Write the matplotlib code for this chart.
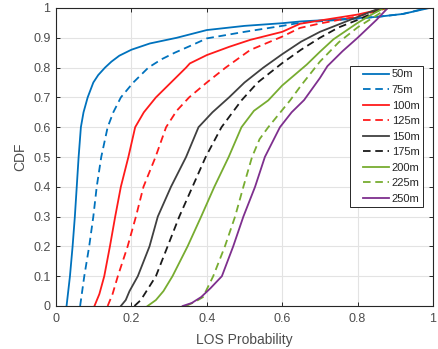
import matplotlib
matplotlib.use("Agg")
import matplotlib.pyplot as plt
from matplotlib.legend_handler import HandlerLine2D

plt.rcParams['font.family'] = ['Liberation Sans', 'DejaVu Sans']

labels = ['50m', '75m', '100m', '125m', '150m', '175m', '200m', '225m', '250m']

x_50 = [0.028, 0.037, 0.044, 0.050, 0.055, 0.060, 0.066, 0.073, 0.084, 0.099, 0.112, 0.130, 0.147, 0.168, 0.200, 0.249, 0.320, 0.400, 0.500, 0.600, 0.650, 0.750, 0.850, 0.920, 0.990]
y_50 = [0.0, 0.1, 0.2, 0.3, 0.4, 0.5, 0.6, 0.65, 0.7, 0.75, 0.775, 0.8, 0.82, 0.84, 0.86, 0.881, 0.9, 0.926, 0.94, 0.949, 0.955, 0.962, 0.97, 0.98, 1.0]

x_75 = [0.064, 0.075, 0.088, 0.099, 0.108, 0.120, 0.137, 0.152, 0.172, 0.205, 0.245, 0.280, 0.315, 0.360, 0.400, 0.500, 0.600, 0.650, 0.750, 0.850, 0.920, 0.985]
y_75 = [0.0, 0.1, 0.2, 0.3, 0.4, 0.5, 0.6, 0.65, 0.7, 0.75, 0.8, 0.828, 0.85, 0.875, 0.898, 0.92, 0.94, 0.951, 0.96, 0.97, 0.98, 1.0]

x_100 = [0.102, 0.115, 0.128, 0.143, 0.157, 0.172, 0.192, 0.210, 0.233, 0.265, 0.305, 0.345, 0.355, 0.400, 0.460, 0.515, 0.600, 0.647, 0.700, 0.800, 0.877]
y_100 = [0.0, 0.04, 0.1, 0.2, 0.3, 0.4, 0.5, 0.6, 0.65, 0.7, 0.75, 0.8, 0.814, 0.842, 0.870, 0.893, 0.92, 0.947, 0.958, 0.978, 1.0]

x_125 = [0.137, 0.150, 0.164, 0.190, 0.212, 0.232, 0.264, 0.292, 0.320, 0.353, 0.400, 0.450, 0.515, 0.600, 0.647, 0.700, 0.800, 0.880]
y_125 = [0.0, 0.04, 0.1, 0.2, 0.3, 0.4, 0.5, 0.6, 0.655, 0.7, 0.75, 0.8, 0.859, 0.904, 0.933, 0.948, 0.972, 1.0]

x_150 = [0.172, 0.185, 0.195, 0.217, 0.248, 0.270, 0.305, 0.345, 0.378, 0.415, 0.459, 0.500, 0.550, 0.600, 0.650, 0.700, 0.750, 0.800, 0.860]
y_150 = [0.0, 0.02, 0.05, 0.1, 0.2, 0.3, 0.4, 0.5, 0.6, 0.65, 0.7, 0.75, 0.8, 0.845, 0.887, 0.92, 0.945, 0.97, 1.0]

x_175 = [0.208, 0.225, 0.240, 0.265, 0.296, 0.327, 0.362, 0.397, 0.439, 0.492, 0.535, 0.585, 0.600, 0.650, 0.700, 0.750, 0.800, 0.870]
y_175 = [0.0, 0.02, 0.05, 0.1, 0.2, 0.3, 0.4, 0.5, 0.6, 0.69, 0.75, 0.8, 0.815, 0.86, 0.9, 0.935, 0.96, 1.0]

x_200 = [0.243, 0.265, 0.285, 0.309, 0.349, 0.385, 0.420, 0.458, 0.492, 0.525, 0.563, 0.600, 0.665, 0.700, 0.736, 0.800, 0.840, 0.870]
y_200 = [0.0, 0.02, 0.05, 0.1, 0.2, 0.3, 0.4, 0.5, 0.6, 0.655, 0.69, 0.74, 0.81, 0.853, 0.895, 0.95, 0.98, 1.0]

x_225 = [0.345, 0.370, 0.390, 0.417, 0.448, 0.475, 0.497, 0.520, 0.540, 0.563, 0.621, 0.650, 0.700, 0.750, 0.800, 0.850, 0.880]
y_225 = [0.0, 0.015, 0.03, 0.1, 0.2, 0.3, 0.4, 0.5, 0.56, 0.6, 0.69, 0.74, 0.82, 0.885, 0.935, 0.975, 1.0]

x_250 = [0.336, 0.360, 0.385, 0.410, 0.440, 0.470, 0.497, 0.528, 0.554, 0.594, 0.625, 0.658, 0.700, 0.720, 0.760, 0.800, 0.850, 0.880]
y_250 = [0.0, 0.01, 0.03, 0.06, 0.1, 0.2, 0.3, 0.4, 0.5, 0.6, 0.65, 0.691, 0.765, 0.805, 0.855, 0.9, 0.96, 1.0]

xs = [x_50, x_75, x_100, x_125, x_150, x_175, x_200, x_225, x_250]
ys = [y_50, y_75, y_100, y_125, y_150, y_175, y_200, y_225, y_250]
colors = ['#0072BD', '#0072BD', '#FF1A1A', '#FF1A1A', '#404040', '#1a1a1a',
          '#77AC30', '#77AC30', '#7E2F8E']
styles = ['-', '--', '-', '--', '-', '--', '-', '--', '-']


class IndentHandler(HandlerLine2D):
    def get_xdata(self, legend, xdescent, ydescent, width, height, fontsize):
        x0 = -xdescent + 0.27 * width
        x1 = -xdescent + width
        return [x0, x1], [x0, x1]


fig = plt.figure(figsize=(4.38, 3.49), dpi=100)
ax = fig.add_axes([56/438, 43/349, 377/438, 298/349])

for x, y, c, ls, lab in zip(xs, ys, colors, styles, labels):
    kw = dict(color=c, lw=1.3, label=lab)
    if ls == '--':
        kw['dashes'] = (4.2, 2.6)
    ax.plot(x, y, **kw)

ax.set_xlim(0, 1)
ax.set_ylim(0, 1)
ax.set_xticks([0, 0.2, 0.4, 0.6, 0.8, 1])
ax.set_xticklabels(['0', '0.2', '0.4', '0.6', '0.8', '1'])
ax.set_yticks([i / 10 for i in range(11)])
ax.set_yticklabels(['0'] + [f'{i/10:.1f}' for i in range(1, 10)] + ['1'])
ax.grid(True, color='#e3e3e3', lw=0.8)
ax.set_axisbelow(True)
ax.tick_params(direction='in', length=3.2, width=0.7, colors='#262626',
               labelsize=9, top=True, right=True, labelcolor='#4d4d4d')
ax.tick_params(axis='x', pad=5)
ax.tick_params(axis='y', pad=4)
for s in ax.spines.values():
    s.set_color('#262626')
    s.set_linewidth(0.8)
ax.set_xlabel('LOS Probability', fontsize=10, color='#4d4d4d', labelpad=5.5)
ax.set_ylabel('CDF', fontsize=10, color='#4d4d4d', labelpad=4)

leg = ax.legend(loc='upper right', bbox_to_anchor=(0.973, 0.805), fontsize=8,
                frameon=True, fancybox=False, edgecolor='#262626', framealpha=1,
                handlelength=3.2, handletextpad=0.25, labelspacing=0.5,
                borderpad=0.3, borderaxespad=0,
                handler_map={plt.Line2D: IndentHandler()})
leg.get_frame().set_linewidth(0.7)
for t in leg.get_texts():
    t.set_color('#262626')

fig.savefig('out.png', dpi=100)
